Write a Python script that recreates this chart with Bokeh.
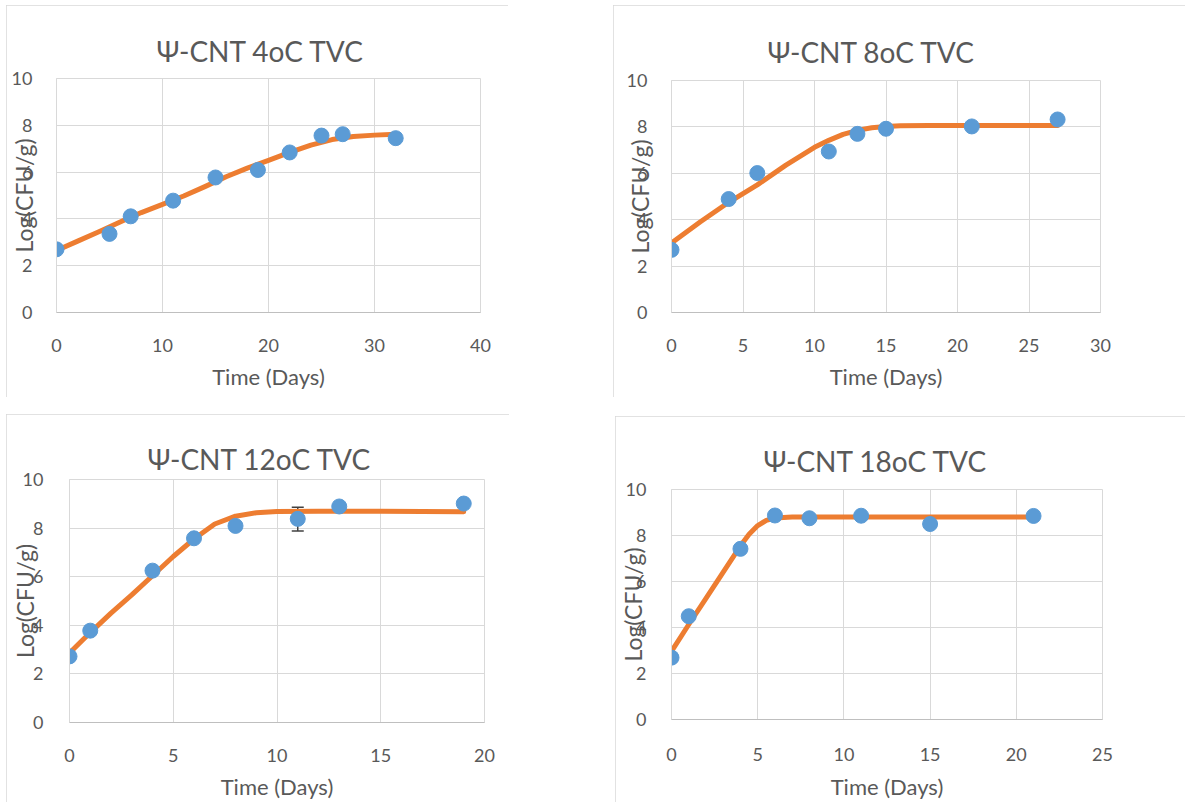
from bokeh.plotting import figure
from bokeh.layouts import row, column
from bokeh.models import ColumnDataSource, Whisker, SingleIntervalTicker, Range1d, TeeHead
from bokeh.embed import file_html
from bokeh.resources import INLINE

# ---------------- data ----------------
titles = ["Ψ-CNT 4oC TVC", "Ψ-CNT 8oC TVC", "Ψ-CNT 12oC TVC", "Ψ-CNT 18oC TVC"]
x_label = "Time (Days)"
y_label = "Log(CFU/g)"

# 4 oC
obs4_days = [0, 5, 7, 11, 15, 19, 22, 25, 27, 32]
obs4_log = [2.70, 3.36, 4.11, 4.78, 5.77, 6.09, 6.84, 7.56, 7.62, 7.45]
fit4_days = [0, 2, 4, 6, 8, 10, 12, 14, 16, 18, 20, 22, 24, 26, 28, 30, 32]
fit4_log = [2.65, 3.05, 3.45, 3.87, 4.27, 4.62, 4.98, 5.38, 5.80, 6.17, 6.50, 6.84, 7.15, 7.39, 7.52, 7.58, 7.62]

# 8 oC
obs8_days = [0, 4, 6, 11, 13, 15, 21, 27]
obs8_log = [2.70, 4.89, 6.01, 6.94, 7.70, 7.92, 8.02, 8.32]
fit8_days = [0, 2, 4, 6, 8, 10, 11, 12, 13, 14, 15, 16, 18, 21, 27]
fit8_log = [3.00, 3.90, 4.75, 5.50, 6.35, 7.12, 7.42, 7.68, 7.85, 7.96, 8.02, 8.05, 8.06, 8.06, 8.06]

# 12 oC
obs12_days = [0, 1, 4, 6, 8, 11, 13, 19]
obs12_log = [2.72, 3.78, 6.25, 7.58, 8.09, 8.38, 8.89, 9.01]
err12_days = [11]
err12_upper = [8.86]
err12_lower = [7.88]
fit12_days = [0, 1, 2, 3, 4, 5, 6, 7, 8, 9, 10, 12, 15, 19]
fit12_log = [2.86, 3.70, 4.50, 5.25, 6.04, 6.83, 7.55, 8.17, 8.49, 8.63, 8.68, 8.69, 8.69, 8.67]

# 18 oC
obs18_days = [0, 1, 4, 6, 8, 11, 15, 21]
obs18_log = [2.69, 4.49, 7.42, 8.87, 8.75, 8.86, 8.50, 8.85]
fit18_days = [0, 1, 2, 3, 4, 4.5, 5, 5.5, 6, 7, 10, 15, 21]
fit18_log = [2.96, 4.13, 5.27, 6.41, 7.55, 8.05, 8.43, 8.66, 8.76, 8.80, 8.80, 8.80, 8.80]

x_max = [40, 30, 20, 25]
x_step = [10, 5, 5, 5]
y_max = 10
y_step = 2

FONT = "Lato"
TXT = "#595959"
GRID = "#d9d9d9"
ORANGE = "#ED7D31"
BLUE = "#5B9BD5"


def panel(title, xmax, xstep, od, ol, fd, fl, w, h, mb, t_off, t_stand,
          yl_stand, yt_stand, xt_stand, xl_stand, margin=(0, 0, 0, 0)):
    p = figure(width=w, height=h, output_backend="svg", toolbar_location=None,
               x_range=Range1d(0, xmax), y_range=Range1d(0, y_max),
               min_border_left=mb[0], min_border_right=mb[1],
               min_border_top=mb[2], min_border_bottom=mb[3],
               frame_align=False, margin=margin,
               background_fill_color="white", border_fill_color="white",
               styles={"outline": "1px solid #d9d9d9", "outline-offset": "-1px"})
    p.title.text = title
    p.title.align = "left"
    p.title.offset = t_off
    p.title.standoff = t_stand
    p.title.text_font = FONT
    p.title.text_font_size = "28px"
    p.title.text_font_style = "normal"
    p.title.text_color = TXT

    p.outline_line_color = GRID
    p.xaxis.ticker = SingleIntervalTicker(interval=xstep)
    p.yaxis.ticker = SingleIntervalTicker(interval=y_step)
    for ax in (p.xaxis[0], p.yaxis[0]):
        ax.major_tick_line_color = None
        ax.minor_tick_line_color = None
        ax.major_label_text_font = FONT
        ax.major_label_text_font_size = "18px"
        ax.major_label_text_color = TXT
        ax.axis_label_text_font = FONT
        ax.axis_label_text_font_style = "normal"
        ax.axis_label_text_color = TXT
    p.xaxis.axis_line_color = "#bfbfbf"
    p.yaxis.axis_line_color = GRID
    p.xaxis.axis_label = x_label
    p.yaxis.axis_label = y_label
    p.xaxis.axis_label_text_font_size = "22px"
    p.yaxis.axis_label_text_font_size = "23px"
    p.yaxis.axis_label_standoff = yl_stand
    p.yaxis.major_label_standoff = yt_stand
    p.xaxis.major_label_standoff = xt_stand
    p.xaxis.axis_label_standoff = xl_stand
    p.xgrid.grid_line_color = GRID
    p.ygrid.grid_line_color = GRID

    p.line(fd, fl, line_color=ORANGE, line_width=5, line_join="round", line_cap="round")
    p.scatter(od, ol, size=15, color=BLUE)
    return p


p1 = panel(titles[0], x_max[0], x_step[0], obs4_days, obs4_log, fit4_days, fit4_log,
           502, 392, (49, 28, 73, 85), 100, 21, -29, 18, 20, 8)
p2 = panel(titles[1], x_max[1], x_step[1], obs8_days, obs8_log, fit8_days, fit8_log,
           572, 392, (58, 85, 75, 85), 96, 24, -30, 18, 20, 8)
p3 = panel(titles[2], x_max[2], x_step[2], obs12_days, obs12_log, fit12_days, fit12_log,
           503, 388, (63, 25, 65, 80), 78, 8, -19, 20, 20, 8)
p4 = panel(titles[3], x_max[3], x_step[3], obs18_days, obs18_log, fit18_days, fit18_log,
           570, 386, (53, 83, 73, 79), 92, 23, -24, 19, 22, 9, margin=(2, 0, 0, 0))

err_src = ColumnDataSource(dict(x=err12_days, upper=err12_upper, lower=err12_lower))
wh = Whisker(source=err_src, base="x", upper="upper", lower="lower",
             line_color="#404040", line_width=1.5,
             upper_head=TeeHead(size=12, line_color="#404040", line_width=1.5),
             lower_head=TeeHead(size=12, line_color="#404040", line_width=1.5),
             level="underlay")
p3.add_layout(wh)

layout = column(row(p1, p2, spacing=105), row(p3, p4, spacing=106), spacing=17,
                margin=(5, 0, 0, 6))

open("out.html", "w").write(file_html(layout, INLINE))
